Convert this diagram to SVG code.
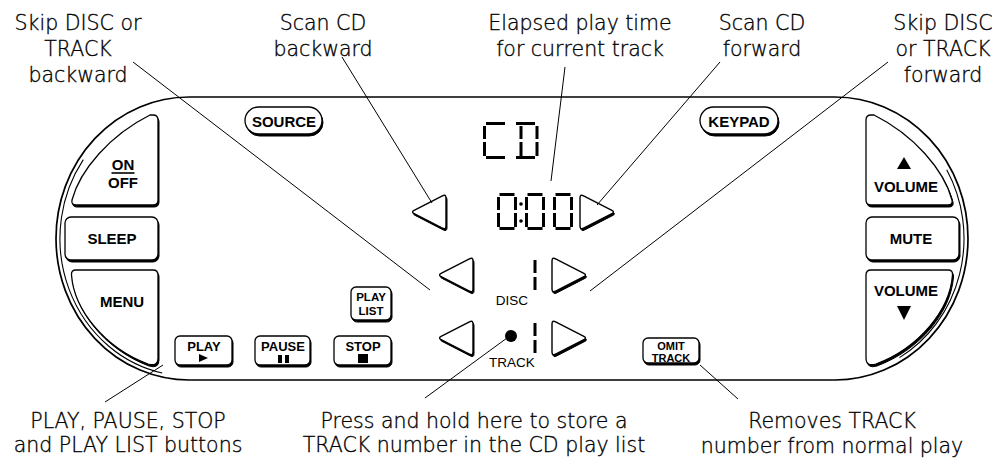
<svg xmlns="http://www.w3.org/2000/svg" xmlns:xlink="http://www.w3.org/1999/xlink" width="1006" height="460" viewBox="0 0 1006 460">
<style>
.frame{fill:none;stroke:#000;stroke-width:1.7}
.inner{fill:none;stroke:#000;stroke-width:1.1}
.sh{fill:#000;stroke:#000;stroke-width:1}
.face{fill:#fff;stroke:#000;stroke-width:1.3}
.tface{fill:#fff;stroke:#000;stroke-width:1.4;stroke-linejoin:round}
.lbl{font-family:"Liberation Sans",Arial,sans-serif;font-weight:bold;font-size:15px;text-anchor:middle;fill:#000}
.sm{font-size:13px}
.xs{font-size:11.5px}
.xxs{font-size:11px}
.lcd{font-family:"Liberation Sans",Arial,sans-serif;font-size:13.5px;text-anchor:middle;fill:#000}
.cap{font-family:"DejaVu Sans","Liberation Sans",sans-serif;font-weight:300;font-size:20.5px;text-anchor:middle;fill:#000;stroke:#000;stroke-width:0.35}
.lead{stroke:#000;stroke-width:1;fill:none}
.seg{stroke:#000;stroke-width:3;fill:none}
</style>
<defs>
<path id="tl" d="M17,-14 L17,14 Q17,18 13.4,16.2 L-14.9,1.6 Q-18,0 -14.9,-1.6 L13.4,-16.2 Q17,-18 17,-14 Z"/>
<path id="tr" d="M-17,-14 L-17,14 Q-17,18 -13.4,16.2 L14.9,1.6 Q18,0 14.9,-1.6 L-13.4,-16.2 Q-17,-18 -17,-14 Z"/>
</defs>

<g id="frame">
<path class="frame" d="M189,97 H835 A133,141.5 0 0 1 835,380 H189 A133,141.5 0 0 1 189,97 Z"/>
<path class="inner" d="M83.3,159.6 A129,137.5 0 0 0 162.2,373"/>
<path class="inner" d="M946.7,169.7 A129,137.5 0 0 1 899.5,357.6"/>
</g>

<g id="btn-onoff">
<path class="sh" transform="translate(1,2)" d="M158,120 Q158,115 153,115 L150,115 C110,135 80,170 72,200 Q71,205 76,205 L153,205 Q158,205 158,200 Z"/>
<path class="face" d="M158,120 Q158,115 153,115 L150,115 C110,135 80,170 72,200 Q71,205 76,205 L153,205 Q158,205 158,200 Z"/>
<text class="lbl" x="123" y="170">ON</text>
<line x1="111.5" y1="173" x2="134.5" y2="173" stroke="#000" stroke-width="1.6"/>
<text class="lbl" x="123" y="188">OFF</text>
</g>

<g id="btn-sleep">
<rect class="sh" x="66" y="219" width="93" height="43" rx="6"/>
<rect class="face" x="65" y="217" width="93" height="43" rx="6"/>
<text class="lbl" x="112" y="244">SLEEP</text>
</g>

<g id="btn-menu">
<path class="sh" transform="translate(1,2)" d="M158,275 Q158,270 153,270 L76,270 Q71,270 71.5,275 C74,310 105,348 148,364 Q158,367 158,358 Z"/>
<path class="face" d="M158,275 Q158,270 153,270 L76,270 Q71,270 71.5,275 C74,310 105,348 148,364 Q158,367 158,358 Z"/>
<text class="lbl" x="122" y="307">MENU</text>
</g>

<g id="btn-volup">
<path class="sh" transform="translate(1,2)" d="M866,120 Q866,115 871,115 L874,115 C914,135 944,170 952,200 Q953,205 948,205 L871,205 Q866,205 866,200 Z"/>
<path class="face" d="M866,120 Q866,115 871,115 L874,115 C914,135 944,170 952,200 Q953,205 948,205 L871,205 Q866,205 866,200 Z"/>
<path d="M904,157 L911,169 L897,169 Z" fill="#000"/>
<text class="lbl" x="906" y="192">VOLUME</text>
</g>

<g id="btn-mute">
<rect class="sh" x="867" y="219" width="93" height="43" rx="6"/>
<rect class="face" x="866" y="217" width="93" height="43" rx="6"/>
<text class="lbl" x="911" y="244">MUTE</text>
</g>

<g id="btn-voldown">
<path class="sh" transform="translate(1,2)" d="M866,275 Q866,270 871,270 L948,270 Q953,270 952.5,275 C950,310 919,348 876,364 Q866,367 866,358 Z"/>
<path class="face" d="M866,275 Q866,270 871,270 L948,270 Q953,270 952.5,275 C950,310 919,348 876,364 Q866,367 866,358 Z"/>
<text class="lbl" x="906" y="296">VOLUME</text>
<path d="M897,306 L911,306 L904,320 Z" fill="#000"/>
</g>

<g id="btn-source">
<rect class="sh" x="246" y="109" width="77" height="27" rx="13.5"/>
<rect class="face" x="245" y="107" width="77" height="27" rx="13.5"/>
<text class="lbl" x="284" y="127">SOURCE</text>
</g>

<g id="btn-keypad">
<rect class="sh" x="701" y="109" width="78" height="27" rx="13.5"/>
<rect class="face" x="700" y="107" width="78" height="27" rx="13.5"/>
<text class="lbl" x="739" y="127">KEYPAD</text>
</g>

<g id="btn-playlist">
<rect class="sh" x="352" y="289" width="40" height="33" rx="5"/>
<rect class="face" x="351" y="287" width="40" height="33" rx="5"/>
<text class="lbl xs" x="371" y="301">PLAY</text>
<text class="lbl xs" x="371" y="314.5">LIST</text>
</g>

<g id="btn-play">
<rect class="sh" x="176" y="338" width="57" height="29" rx="5"/>
<rect class="face" x="175" y="336" width="57" height="29" rx="5"/>
<text class="lbl sm" x="204" y="351">PLAY</text>
<path d="M199,354 L199,362 L208,358 Z" fill="#000"/>
</g>

<g id="btn-pause">
<rect class="sh" x="256" y="338" width="55" height="29" rx="5"/>
<rect class="face" x="255" y="336" width="55" height="29" rx="5"/>
<text class="lbl sm" x="283" y="351">PAUSE</text>
<rect x="278" y="355" width="4" height="8" fill="#000"/>
<rect x="285" y="355" width="4" height="8" fill="#000"/>
</g>

<g id="btn-stop">
<rect class="sh" x="335" y="338" width="57" height="29" rx="5"/>
<rect class="face" x="334" y="336" width="57" height="29" rx="5"/>
<text class="lbl sm" x="363" y="351">STOP</text>
<rect x="358" y="354" width="10" height="9" fill="#000"/>
</g>

<g id="btn-omittrack">
<rect class="sh" x="644" y="340" width="56" height="25" rx="5"/>
<rect class="face" x="643" y="338" width="56" height="25" rx="5"/>
<text class="lbl xxs" x="671" y="350">OMIT</text>
<text class="lbl xxs" x="671" y="362">TRACK</text>
</g>

<g id="lcd-cd">
<path class="seg" d="M486,123.5 H505 M484.5,126 V139 M484.5,142 V156 M486,157.5 H505"/>
<path class="seg" d="M516,123.5 H535 M537,126 V139 M537,142 V156 M516,157.5 H535 M521,126 V139 M521,142 V156"/>
</g>

<g id="lcd-time">
<path class="seg" d="M499.5,194.5 H514.5 M498.5,197 V210 M498.5,213 V227 M515.5,197 V210 M515.5,213 V227 M499.5,228.5 H514.5"/>
<circle cx="521" cy="204" r="1.8" fill="#000"/>
<circle cx="521" cy="221" r="1.8" fill="#000"/>
<path class="seg" d="M527.5,194.5 H542.5 M526.5,197 V210 M526.5,213 V227 M543.5,197 V210 M543.5,213 V227 M527.5,228.5 H542.5"/>
<path class="seg" d="M555.5,194.5 H570.5 M554.5,197 V210 M554.5,213 V227 M571.5,197 V210 M571.5,213 V227 M555.5,228.5 H570.5"/>
</g>

<g id="scan-back">
<use xlink:href="#tl" class="sh" transform="translate(430,213.8)"/>
<use xlink:href="#tl" class="tface" transform="translate(429,212)"/>
</g>
<g id="scan-fwd">
<use xlink:href="#tr" class="sh" transform="translate(598,213.8)"/>
<use xlink:href="#tr" class="tface" transform="translate(597,212)"/>
</g>

<g id="disc">
<use xlink:href="#tl" class="sh" transform="translate(457,276.8)"/>
<use xlink:href="#tl" class="tface" transform="translate(456,275)"/>
<path class="seg" d="M535,260 V273 M535,277 V290"/>
<use xlink:href="#tr" class="sh" transform="translate(570,276.8)"/>
<use xlink:href="#tr" class="tface" transform="translate(569,275)"/>
<text class="lcd" x="512" y="305">DISC</text>
</g>

<g id="track">
<use xlink:href="#tl" class="sh" transform="translate(457,339.8)"/>
<use xlink:href="#tl" class="tface" transform="translate(456,338)"/>
<circle cx="511" cy="336" r="6" fill="#000"/>
<path class="seg" d="M535,323 V336 M535,340 V353"/>
<use xlink:href="#tr" class="sh" transform="translate(570,339.8)"/>
<use xlink:href="#tr" class="tface" transform="translate(569,338)"/>
<text class="lcd" x="512" y="367">TRACK</text>
</g>

<g id="leaders">
<line class="lead" x1="133" y1="62" x2="430" y2="290"/>
<line class="lead" x1="342" y1="57" x2="432" y2="203"/>
<line class="lead" x1="565" y1="67" x2="551" y2="181"/>
<line class="lead" x1="720" y1="62" x2="597" y2="205"/>
<line class="lead" x1="888" y1="62" x2="590" y2="291"/>
<line class="lead" x1="105" y1="402" x2="163" y2="365"/>
<line class="lead" x1="425" y1="398" x2="507" y2="338"/>
<line class="lead" x1="700" y1="365" x2="738" y2="399"/>
</g>

<g id="labels">
<text class="cap" x="78" y="29.5">Skip DISC or</text>
<text class="cap" x="78" y="56">TRACK</text>
<text class="cap" x="78" y="82">backward</text>
<text class="cap" x="323" y="29.5">Scan CD</text>
<text class="cap" x="323" y="56">backward</text>
<text class="cap" x="580" y="29.5">Elapsed play time</text>
<text class="cap" x="580" y="56">for current track</text>
<text class="cap" x="762" y="29.5">Scan CD</text>
<text class="cap" x="762" y="56">forward</text>
<text class="cap" x="943" y="29.5">Skip DISC</text>
<text class="cap" x="943" y="56">or TRACK</text>
<text class="cap" x="943" y="82">forward</text>
<text class="cap" x="128" y="428">PLAY, PAUSE, STOP</text>
<text class="cap" x="128" y="452">and PLAY LIST buttons</text>
<text class="cap" x="474" y="428">Press and hold here to store a</text>
<text class="cap" x="474" y="452">TRACK number in the CD play list</text>
<text class="cap" x="832" y="428">Removes TRACK</text>
<text class="cap" x="832" y="453">number from normal play</text>
</g>
</svg>
